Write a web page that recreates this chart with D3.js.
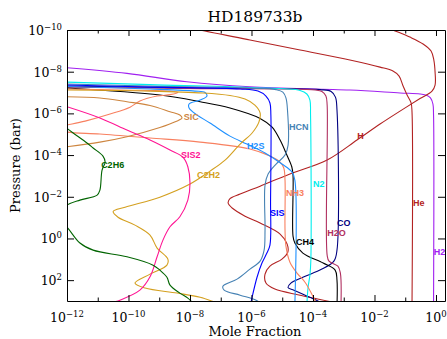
<!DOCTYPE html>
<html><head><meta charset="utf-8">
<script src="https://cdn.jsdelivr.net/npm/d3@7"></script>
<style>body{margin:0;background:#fff;overflow:hidden}</style>
</head><body>
<script>
// ---------- chart text ----------
const titleText = "HD189733b";
const xTitle = "Mole Fraction";
const yTitle = "Pressure (bar)";

// ---------- axes (log10 exponents) ----------
const xMinExp = -12, xMaxExp = 0.2927;
const yMinExp = -10, yMaxExp = 3;
const xMajorExps = [-12, -10, -8, -6, -4, -2, 0];
const xMinorExps = [-11, -9, -7, -5, -3, -1];
const yMajorExps = [-10, -8, -6, -4, -2, 0, 2];

// ---------- series: [log10 mole fraction, log10 pressure (bar)] ----------
const H2 = [[-12,-8.19],[-10.05,-7.92],[-8.10,-7.52],[-6.05,-7.28],[-2.80,-7.12],[-1.17,-6.98],[-0.52,-6.93],[-0.29,-6.86],[-0.18,-6.74],[-0.10,-6.45],[-0.08,-5.92],[-0.08,3.2]];
const He = [[-8.0,-10.12],[-7.67,-10],[-6.05,-9.52],[-4.42,-9.04],[-2.80,-8.56],[-1.82,-8.22],[-1.40,-8.03],[-1.20,-7.79],[-1.07,-7.31],[-0.94,-6.88],[-0.81,-6.50],[-0.78,-6.06],[-0.78,3.2]];
const H = [[-1.55,-10.1],[-1.40,-10],[-0.85,-9.66],[-0.42,-9.33],[-0.16,-8.99],[-0.07,-8.56],[-0.03,-7.98],[-0.03,-7.36],[-0.13,-7.07],[-0.52,-6.71],[-1.17,-6.11],[-1.82,-5.49],[-2.57,-4.72],[-3.54,-3.76],[-4.75,-3.09],[-5.72,-2.51],[-6.37,-2.13],[-6.70,-1.91],[-6.76,-1.70],[-6.63,-1.46],[-6.21,-1.07],[-5.72,-0.74],[-5.07,-0.21],[-4.84,0.27],[-4.82,0.66],[-5.01,0.99],[-5.40,1.33],[-5.56,1.71],[-5.53,2.14],[-5.24,2.43],[-4.42,2.72],[-3.45,3.03],[-3.2,3.15]];
const CO = [[-12,-7.31],[-7.67,-7.22],[-3.77,-7.14],[-3.41,-7.05],[-3.27,-6.78],[-3.22,-6.16],[-3.22,0.56],[-3.32,1.09],[-3.71,1.47],[-4.33,1.86],[-4.72,2.14],[-4.81,2.36],[-4.62,2.48],[-4.10,2.82],[-3.84,3.0],[-3.7,3.15]];
const H2O = [[-12,-7.26],[-7.67,-7.19],[-3.93,-7.12],[-3.71,-7.05],[-3.58,-6.83],[-3.54,-6.40],[-3.54,0.80],[-3.48,1.09],[-3.19,1.33],[-3.11,1.66],[-3.09,3.2]];
const CH4 = [[-12,-7.22],[-8.98,-6.88],[-7.67,-6.56],[-6.70,-6.26],[-5.72,-5.76],[-5.33,-5.34],[-5.07,-4.72],[-4.85,-4.00],[-4.69,-3.44],[-4.65,-3.04],[-4.65,-0.11],[-4.59,0.22],[-4.33,0.70],[-3.67,1.18],[-3.28,1.52],[-3.22,2.0],[-3.22,3.2]];
const N2 = [[-12,-7.50],[-9.30,-7.38],[-6.05,-7.24],[-4.42,-7.10],[-4.20,-6.93],[-4.10,-6.64],[-4.08,-5.92],[-4.07,1.04],[-4.10,1.76],[-4.16,2.34],[-4.20,3.2]];
const NH3 = [[-12,-7.17],[-10.28,-7.12],[-8.65,-7.07],[-8.39,-7.0],[-8.65,-6.90],[-9.07,-6.83],[-9.63,-6.59],[-9.95,-6.30],[-10.60,-5.97],[-11.41,-5.63],[-12,-5.44],[-12.55,-5.27],[-12,-5.10],[-10.93,-5.01],[-9.30,-4.82],[-7.67,-4.62],[-6.05,-4.29],[-5.40,-3.95],[-5.07,-3.66],[-4.95,-3.38],[-4.91,-2.80],[-4.91,-0.40],[-4.88,0.37],[-4.75,1.14],[-4.52,1.66],[-4.26,2.10],[-4.07,2.58],[-3.93,3.0],[-3.88,3.15]];
const HCN = [[-12,-7.41],[-9.30,-7.31],[-6.05,-7.22],[-5.20,-7.14],[-4.98,-7.02],[-4.88,-6.74],[-4.83,-6.16],[-4.81,-4.48],[-4.91,-4.0],[-5.20,-3.57],[-5.46,-3.09],[-5.56,-2.56],[-5.56,-0.40],[-5.59,0.56],[-5.72,1.09],[-6.05,1.47],[-6.47,1.95],[-6.93,2.29],[-6.89,2.48],[-6.37,2.72],[-5.85,2.96],[-5.72,3.1]];
const H2S = [[-12,-7.29],[-9.30,-7.17],[-7.84,-7.07],[-7.51,-7.0],[-7.45,-6.83],[-7.67,-6.64],[-8.03,-6.45],[-8.03,-6.26],[-7.77,-5.92],[-7.35,-5.54],[-6.70,-4.91],[-6.15,-4.53],[-5.56,-4.10],[-5.01,-3.57],[-4.68,-3.18],[-4.59,-2.80],[-4.59,3.2]];
const SiS = [[-12,-7.36],[-9.30,-7.26],[-6.37,-7.17],[-5.79,-7.07],[-5.53,-6.83],[-5.40,-6.50],[-5.37,-5.92],[-5.38,-1.84],[-5.40,0.32],[-5.50,0.70],[-5.66,1.18],[-5.82,1.86],[-5.98,2.82],[-6.02,3.1]];
const C2H2 = [[-12,-7.12],[-9.30,-7.07],[-7.58,-6.98],[-6.70,-6.86],[-6.21,-6.69],[-5.89,-6.40],[-5.72,-6.02],[-5.76,-5.58],[-5.98,-5.06],[-6.37,-4.53],[-6.86,-3.76],[-7.35,-3.23],[-8.00,-2.61],[-8.98,-1.98],[-10.11,-1.50],[-10.50,-1.29],[-10.34,-1.02],[-9.79,-0.64],[-9.30,-0.16],[-9.07,0.46],[-8.72,0.99],[-8.75,1.28],[-9.30,1.71],[-9.79,2.14],[-9.46,2.38],[-8.42,2.62],[-7.67,2.82],[-7.18,3.06],[-7.0,3.15]];
const SiC = [[-12,-6.80],[-10.93,-6.74],[-10.05,-6.56],[-9.30,-6.38],[-8.65,-6.08],[-8.33,-5.92],[-8.26,-5.78],[-8.46,-5.61],[-8.98,-5.32],[-10.05,-4.88],[-10.93,-4.62],[-12,-4.40]];
const SiS2 = [[-12,-6.32],[-10.93,-5.78],[-10.05,-5.20],[-9.30,-4.72],[-8.65,-4.24],[-8.23,-3.90],[-8.07,-3.44],[-8.00,-2.66],[-8.07,-1.84],[-8.33,-1.04],[-8.65,-0.56],[-8.88,0.08],[-9.07,0.88],[-9.30,1.84],[-9.63,2.48],[-10.28,2.96],[-10.50,3.06]];
const C2H6 = [[-12,-5.28],[-11.80,-5.06],[-11.35,-4.58],[-11.15,-4.34],[-10.83,-3.95],[-10.76,-3.66],[-10.86,-3.28],[-10.93,-2.32],[-11.02,-2.08],[-11.58,-1.84],[-12,-1.60],[-12.4,-1.12],[-12,-0.54],[-11.58,0.22],[-11.15,0.56],[-10.05,0.88],[-9.20,1.28],[-8.98,1.52],[-8.75,1.86],[-8.65,2.24],[-8.33,2.62],[-8.07,2.86],[-7.93,3.06]];

const seriesNames  = ["H2","He","H","CO","H2O","CH4","N2","NH3","HCN","H2S","SIS","C2H2","SIC","SIS2","C2H6"];
const seriesData   = [H2, He, H, CO, H2O, CH4, N2, NH3, HCN, H2S, SiS, C2H2, SiC, SiS2, C2H6];
const seriesColors = ["#a020f0","#b22222","#b22222","#000080","#b03060","#000000","#00eeee","#f88060","#4682b4","#1e90ff","#0000ff","#d4a020","#cd853f","#ff1493","#006400"];
// label anchor (left, vertical middle) in [log10 mole fraction, log10 pressure]
const labelPos = [[-0.07,0.66],[-0.75,-1.70],[-2.56,-4.91],[-3.22,-0.74],[-3.54,-0.26],[-4.55,0.18],[-4.0,-2.61],[-4.88,-2.18],[-4.78,-5.34],[-6.15,-4.43],[-5.40,-1.22],[-7.77,-3.04],[-8.20,-5.82],[-8.29,-4.0],[-10.89,-3.52]];

// ---------- layout ----------
const W = 447, Hh = 339;
const L = 67, R = 445, T = 30, B = 301;

const x = d3.scaleLog().domain([10**xMinExp, 10**xMaxExp]).range([L, R]);
const y = d3.scaleLog().domain([10**yMinExp, 10**yMaxExp]).range([T, B]);

const svg = d3.select("body").append("svg").attr("width", W).attr("height", Hh)
  .style("font-family", "'DejaVu Serif', serif");

svg.append("defs").append("clipPath").attr("id","plotclip")
  .append("rect").attr("x", L).attr("y", T).attr("width", R-L).attr("height", B-T);

// series
const line = d3.line()
  .x(d => x(10**d[0])).y(d => y(10**d[1]))
  .curve(d3.curveCatmullRom.alpha(0.5));
const g = svg.append("g").attr("clip-path","url(#plotclip)");
seriesData.forEach((s, i) => {
  g.append("path").attr("d", line(s)).attr("fill","none")
    .attr("stroke", seriesColors[i]).attr("stroke-width", 1.1);
});

// labels
seriesNames.forEach((n, i) => {
  svg.append("text").attr("x", x(10**labelPos[i][0])).attr("y", y(10**labelPos[i][1]))
    .attr("dy","0.35em").attr("fill", seriesColors[i])
    .style("font-family","'Liberation Sans', Arial, sans-serif")
    .style("font-weight","bold").style("font-size","9px").text(n);
});

// axes with inward ticks
function axisG(axis, tr) {
  const a = svg.append("g").attr("transform", tr).call(axis);
  a.selectAll("text").remove();
  a.select(".domain").attr("stroke","#000");
  a.selectAll("line").attr("stroke","#000");
  return a;
}
axisG(d3.axisBottom(x).tickValues(xMajorExps.map(e=>10**e)).tickSizeInner(-6).tickSizeOuter(0), `translate(0,${B})`);
axisG(d3.axisBottom(x).tickValues(xMinorExps.map(e=>10**e)).tickSizeInner(-3.5).tickSizeOuter(0), `translate(0,${B})`).select(".domain").remove();
axisG(d3.axisTop(x).tickValues(xMajorExps.map(e=>10**e)).tickSizeInner(-6).tickSizeOuter(0), `translate(0,${T})`);
axisG(d3.axisTop(x).tickValues(xMinorExps.map(e=>10**e)).tickSizeInner(-3.5).tickSizeOuter(0), `translate(0,${T})`).select(".domain").remove();
axisG(d3.axisLeft(y).tickValues(yMajorExps.map(e=>10**e)).tickSizeInner(-7).tickSizeOuter(0), `translate(${L},0)`);
axisG(d3.axisRight(y).tickValues(yMajorExps.map(e=>10**e)).tickSizeInner(-7).tickSizeOuter(0), `translate(${R},0)`);

// tick labels 10^n
function powLabel(sel, e) {
  sel.append("tspan").style("font-size","12.5px").text("10");
  sel.append("tspan").attr("dy","-5").style("font-size","8.5px").text(e < 0 ? "\u2212" + Math.abs(e) : String(e));
}
xMajorExps.forEach(e => {
  const t = svg.append("text").attr("x", x(10**e)).attr("y", B + 21).attr("text-anchor","middle");
  powLabel(t, e);
});
yMajorExps.forEach(e => {
  const t = svg.append("text").attr("x", L - 5).attr("y", y(10**e) + 5).attr("text-anchor","end");
  powLabel(t, e);
});

// titles
svg.append("text").attr("x", 255).attr("y", 22).attr("text-anchor","middle")
  .style("font-size","15.5px").text(titleText);
svg.append("text").attr("x", 255).attr("y", 336).attr("text-anchor","middle")
  .style("font-size","13px").text(xTitle);
svg.append("text").attr("transform", `translate(20,${(T+B)/2}) rotate(-90)`).attr("text-anchor","middle")
  .style("font-size","13px").text(yTitle);
</script>
</body></html>
